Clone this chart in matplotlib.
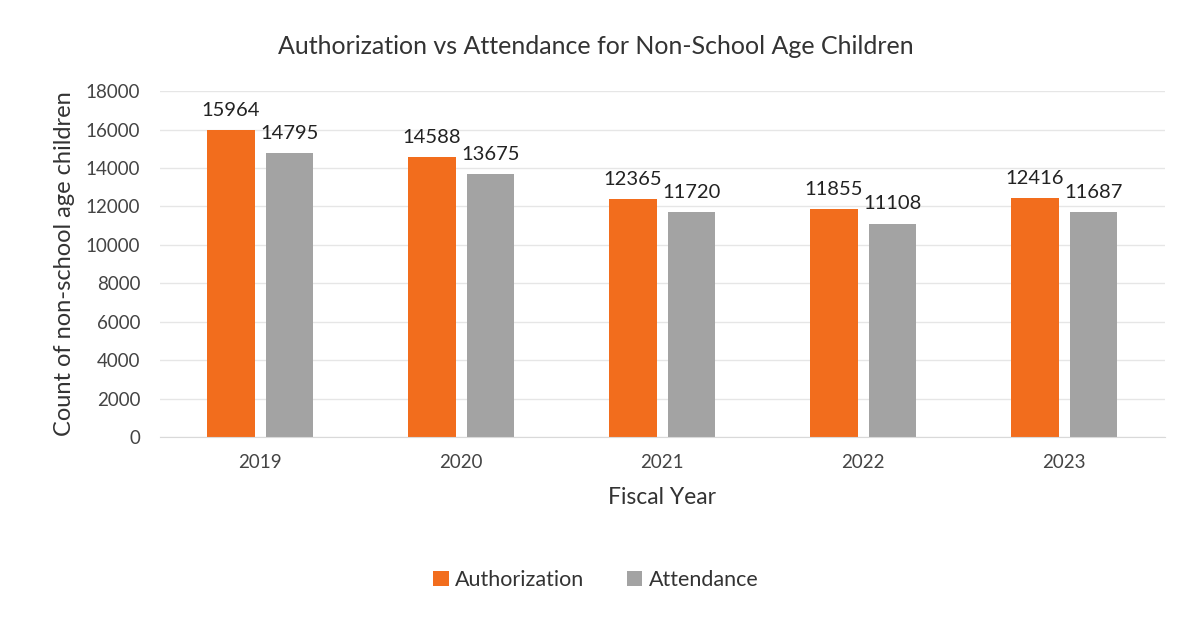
import numpy as np
import matplotlib.pyplot as plt

plt.rcParams['font.family'] = ['Lato', 'DejaVu Sans']

years = ['2019', '2020', '2021', '2022', '2023']
authorization = [15964, 14588, 12365, 11855, 12416]
attendance = [14795, 13675, 11720, 11108, 11687]

orange = '#f26d1d'
gray = '#a3a3a3'

fig = plt.figure(figsize=(11.92, 6.2), dpi=100)
ax = fig.add_axes([0.134, 0.295, 0.843, 0.558])

x = np.arange(len(years))
w = 0.235
gap = 0.055
b1 = ax.bar(x - (w + gap) / 2, authorization, w, color=orange, label='Authorization')
b2 = ax.bar(x + (w + gap) / 2, attendance, w, color=gray, label='Attendance')

for bars in (b1, b2):
    for rect in bars:
        h = rect.get_height()
        ax.annotate(str(int(h)), (rect.get_x() + rect.get_width() / 2, h),
                    xytext=(0, 8), textcoords='offset points',
                    ha='center', va='bottom', fontsize=14.5, color='#222222')

ax.set_ylim(0, 18000)
ax.set_yticks(np.arange(0, 18001, 2000))
ax.set_xlim(-0.5, len(years) - 0.5)
ax.set_xticks(x)
ax.set_xticklabels(years)
ax.tick_params(axis='both', length=0, labelsize=13.5, colors='#444444')
ax.tick_params(axis='x', pad=12)
ax.tick_params(axis='y', pad=14)
ax.grid(axis='y', color='#e6e6e6', linewidth=1)
ax.set_axisbelow(True)
for s in ('top', 'right', 'left'):
    ax.spines[s].set_visible(False)
ax.spines['bottom'].set_color('#d9d9d9')

ax.set_ylabel('Count of non-school age children', fontsize=17, color='#333333', labelpad=8)
ax.set_xlabel('Fiscal Year', fontsize=16.5, color='#333333', labelpad=12)
fig.text(0.5, 0.925, 'Authorization vs Attendance for Non-School Age Children',
         ha='center', va='center', fontsize=18, color='#333333')

fig.legend(handles=[b1, b2], loc='center', bbox_to_anchor=(0.5, 0.064), ncol=2,
           frameon=False, fontsize=15.5, handlelength=0.7, handleheight=0.7,
           handletextpad=0.3, columnspacing=2.0, labelcolor='#333333')

fig.savefig('out.png', dpi=100)
